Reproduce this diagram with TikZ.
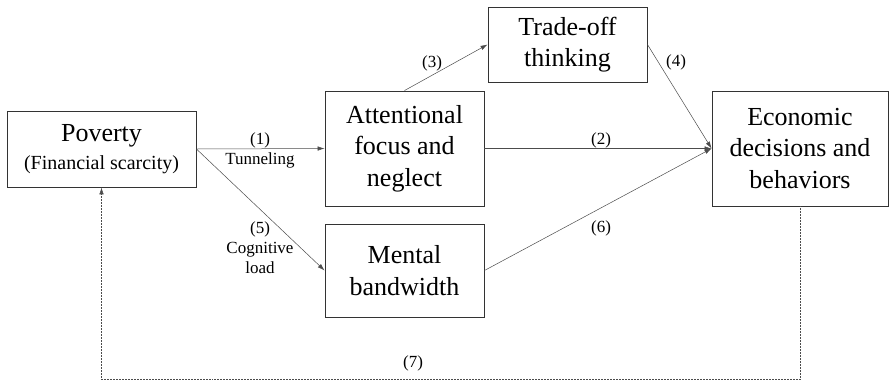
\documentclass[tikz,border=0pt]{standalone}
\usepackage{fontspec}
\setmainfont{Liberation Serif}
\usetikzlibrary{calc}
\usetikzlibrary{arrows.meta}

\begin{document}
\begin{tikzpicture}[x=1pt,y=-1pt,
    box/.style={draw=black!80,line width=0.9pt,align=center,inner sep=0pt,
        font=\fontsize{26}{31.5}\selectfont},
    link/.style={draw=black!70,line width=0.5pt,-{Latex[length=7pt,width=4.5pt]}},
    lbl/.style={align=center,inner sep=0pt,font=\fontsize{17}{20}\selectfont}]

        % Define the size of the picture
        \useasboundingbox (0,0) rectangle (889,381);

        % Draw the boxes
        \node[box,minimum width=189pt,minimum height=76pt] (pov) at (101.5,149)
            {Poverty\\[-4pt]{\fontsize{20}{24}\selectfont (Financial scarcity)}};
        \node[box,minimum width=159pt,minimum height=115pt] (att) at (404.5,148.5)
            {Attentional\\focus and\\neglect};
        \node[box,minimum width=159pt,minimum height=75pt] (trade) at (567.5,44.5)
            {Trade-off\\thinking};
        \node[box,minimum width=159pt,minimum height=93pt] (mental) at (404.5,270.5)
            {Mental\\bandwidth};
        \node[box,minimum width=176pt,minimum height=115pt] (eco) at (800,148.5)
            {Economic\\decisions and\\behaviors};

        % Draw the paths
        \draw[link] (pov.east) -- (att.west);
        \draw[link] (pov.east) -- (mental.west);
        \draw[link] (att.north) -- (trade.west);
        \draw[link] (att.east) -- (eco.west);
        \draw[link] (trade.east) -- (eco.west);
        \draw[link] (mental.east) -- (eco.west);

        % Draw the feedback loop
        \draw[link,densely dotted] (eco.south) -- ++(0,173) -| (pov.south);

        % Draw the path labels
        \node[lbl] (l1) at (260,150) {(1)\\Tunneling};
        \node[lbl] (l2) at (601,140) {(2)};
        \node[lbl] (l3) at (432,63) {(3)};
        \node[lbl] (l4) at (676,62) {(4)};
        \node[lbl] (l5) at (260,248) {(5)\\Cognitive\\load};
        \node[lbl] (l6) at (601,228) {(6)};
        \node[lbl] (l7) at (413,363) {(7)};

    \end{tikzpicture}
\end{document}
